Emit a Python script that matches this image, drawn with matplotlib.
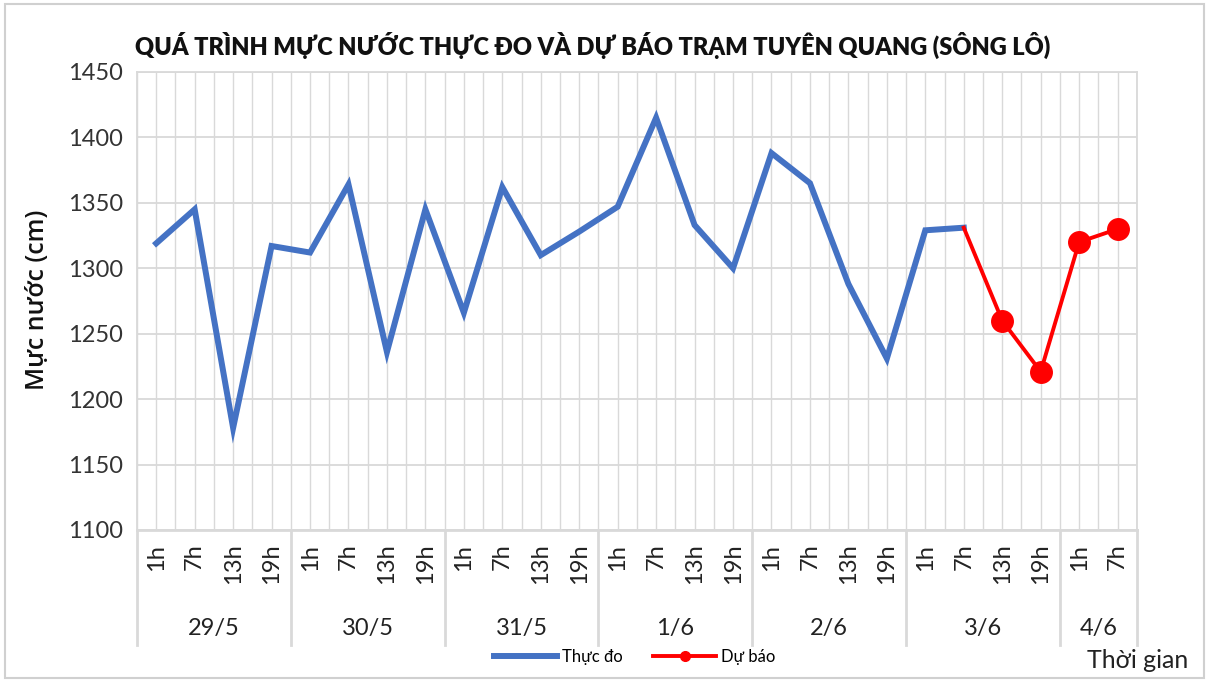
import matplotlib
matplotlib.use("Agg")
import matplotlib.pyplot as plt
from matplotlib.patches import Rectangle
import matplotlib.transforms as mtransforms

days = ["29/5", "30/5", "31/5", "1/6", "2/6", "3/6", "4/6"]
hours_per_day = [["1h", "7h", "13h", "19h"]] * 6 + [["1h", "7h"]]
observed = [1319, 1345, 1178, 1317, 1312, 1364, 1236, 1345,
            1266, 1362, 1310, 1328, 1347, 1415, 1333, 1300,
            1388, 1365, 1288, 1231, 1329, 1331]
forecast = [1331, 1260, 1221, 1320, 1330]
forecast_start = 21  # index of 3/6 7h
yticks = [1100, 1150, 1200, 1250, 1300, 1350, 1400, 1450]

title = "QUÁ TRÌNH MỰC NƯỚC THỰC ĐO VÀ DỰ BÁO TRẠM TUYÊN QUANG (SÔNG LÔ)"
ylabel = "Mực nước (cm)"
xlabel = "Thời gian"
legend_labels = ["Thực đo", "Dự báo"]

hour_labels = [h for d in hours_per_day for h in d]
n = len(hour_labels)
narrow = ["Lato", "DejaVu Sans"]

fig = plt.figure(figsize=(12.09, 6.82), dpi=100)
fig.patches.append(Rectangle((0.004, 0.006), 0.992, 0.988, transform=fig.transFigure,
                             fill=False, edgecolor="#d0d0d0", linewidth=1.5))
ax = fig.add_axes([0.1133, 0.2229, 0.827, 0.6716])

xs_obs = [i + 0.5 for i in range(len(observed))]
xs_fc = [forecast_start + i + 0.5 for i in range(len(forecast))]
l1, = ax.plot(xs_obs, observed, color="#4472C4", linewidth=4.3, solid_joinstyle="miter", zorder=3)
l2, = ax.plot(xs_fc, forecast, color="#FF0000", linewidth=2.8, marker="o", markersize=15.5,
              markevery=list(range(1, len(forecast))), zorder=4)

ax.set_xlim(0, n)
ax.set_ylim(1100, 1450)
ax.set_yticks(yticks)
ax.set_yticklabels([str(v) for v in yticks], family=narrow, fontsize=17, color="#333333")
ax.set_xticks([i + 0.5 for i in range(n)])
ax.set_xticklabels([])
ax.set_xticks(list(range(n + 1)), minor=True)
ax.tick_params(axis="both", which="both", length=0)
ax.tick_params(axis="y", pad=10)
ax.grid(True, which="both", axis="x", color="#d9d9d9", linewidth=1.0)
ax.grid(True, which="major", axis="y", color="#d9d9d9", linewidth=1.3)
ax.set_axisbelow(True)
for s in ax.spines.values():
    s.set_color("#d9d9d9")
    s.set_linewidth(1.3)
ax.spines["bottom"].set_linewidth(2.0)

trans = mtransforms.blended_transform_factory(ax.transData, ax.transAxes)
for i, h in enumerate(hour_labels):
    ax.text(i + 0.5, -0.03, h, transform=trans, rotation=90, ha="center", va="top",
            family=narrow, fontsize=17, color="#222222")

bounds = [0]
for d in hours_per_day:
    bounds.append(bounds[-1] + len(d))
for b in bounds:
    ax.plot([b, b], [0, -0.251], transform=trans, color="#d9d9d9", linewidth=2.0, clip_on=False)
for k, d in enumerate(days):
    ax.text((bounds[k] + bounds[k + 1]) / 2, -0.215, d, transform=trans, ha="center", va="center",
            family=narrow, fontsize=17, color="#222222")

fig.text(0.490, 0.934, title, ha="center", va="center", family=narrow, fontsize=17,
         fontweight="heavy", color="#111111")
fig.text(0.031, 0.56, ylabel, rotation=90, ha="center", va="center",
         family=["Open Sans", "DejaVu Sans"], fontsize=18, fontweight="semibold", color="#111111")
fig.text(0.983, 0.032, xlabel, ha="right", va="center", family=narrow, fontsize=18, color="#222222")

fig.legend([l1, l2], legend_labels, loc="center", bbox_to_anchor=(0.525, 0.037), ncol=2,
           frameon=False, prop={"family": narrow, "size": 12}, handlelength=3.8,
           columnspacing=1.8, handletextpad=0.3, markerscale=0.45)

fig.savefig("out.png", dpi=100)
